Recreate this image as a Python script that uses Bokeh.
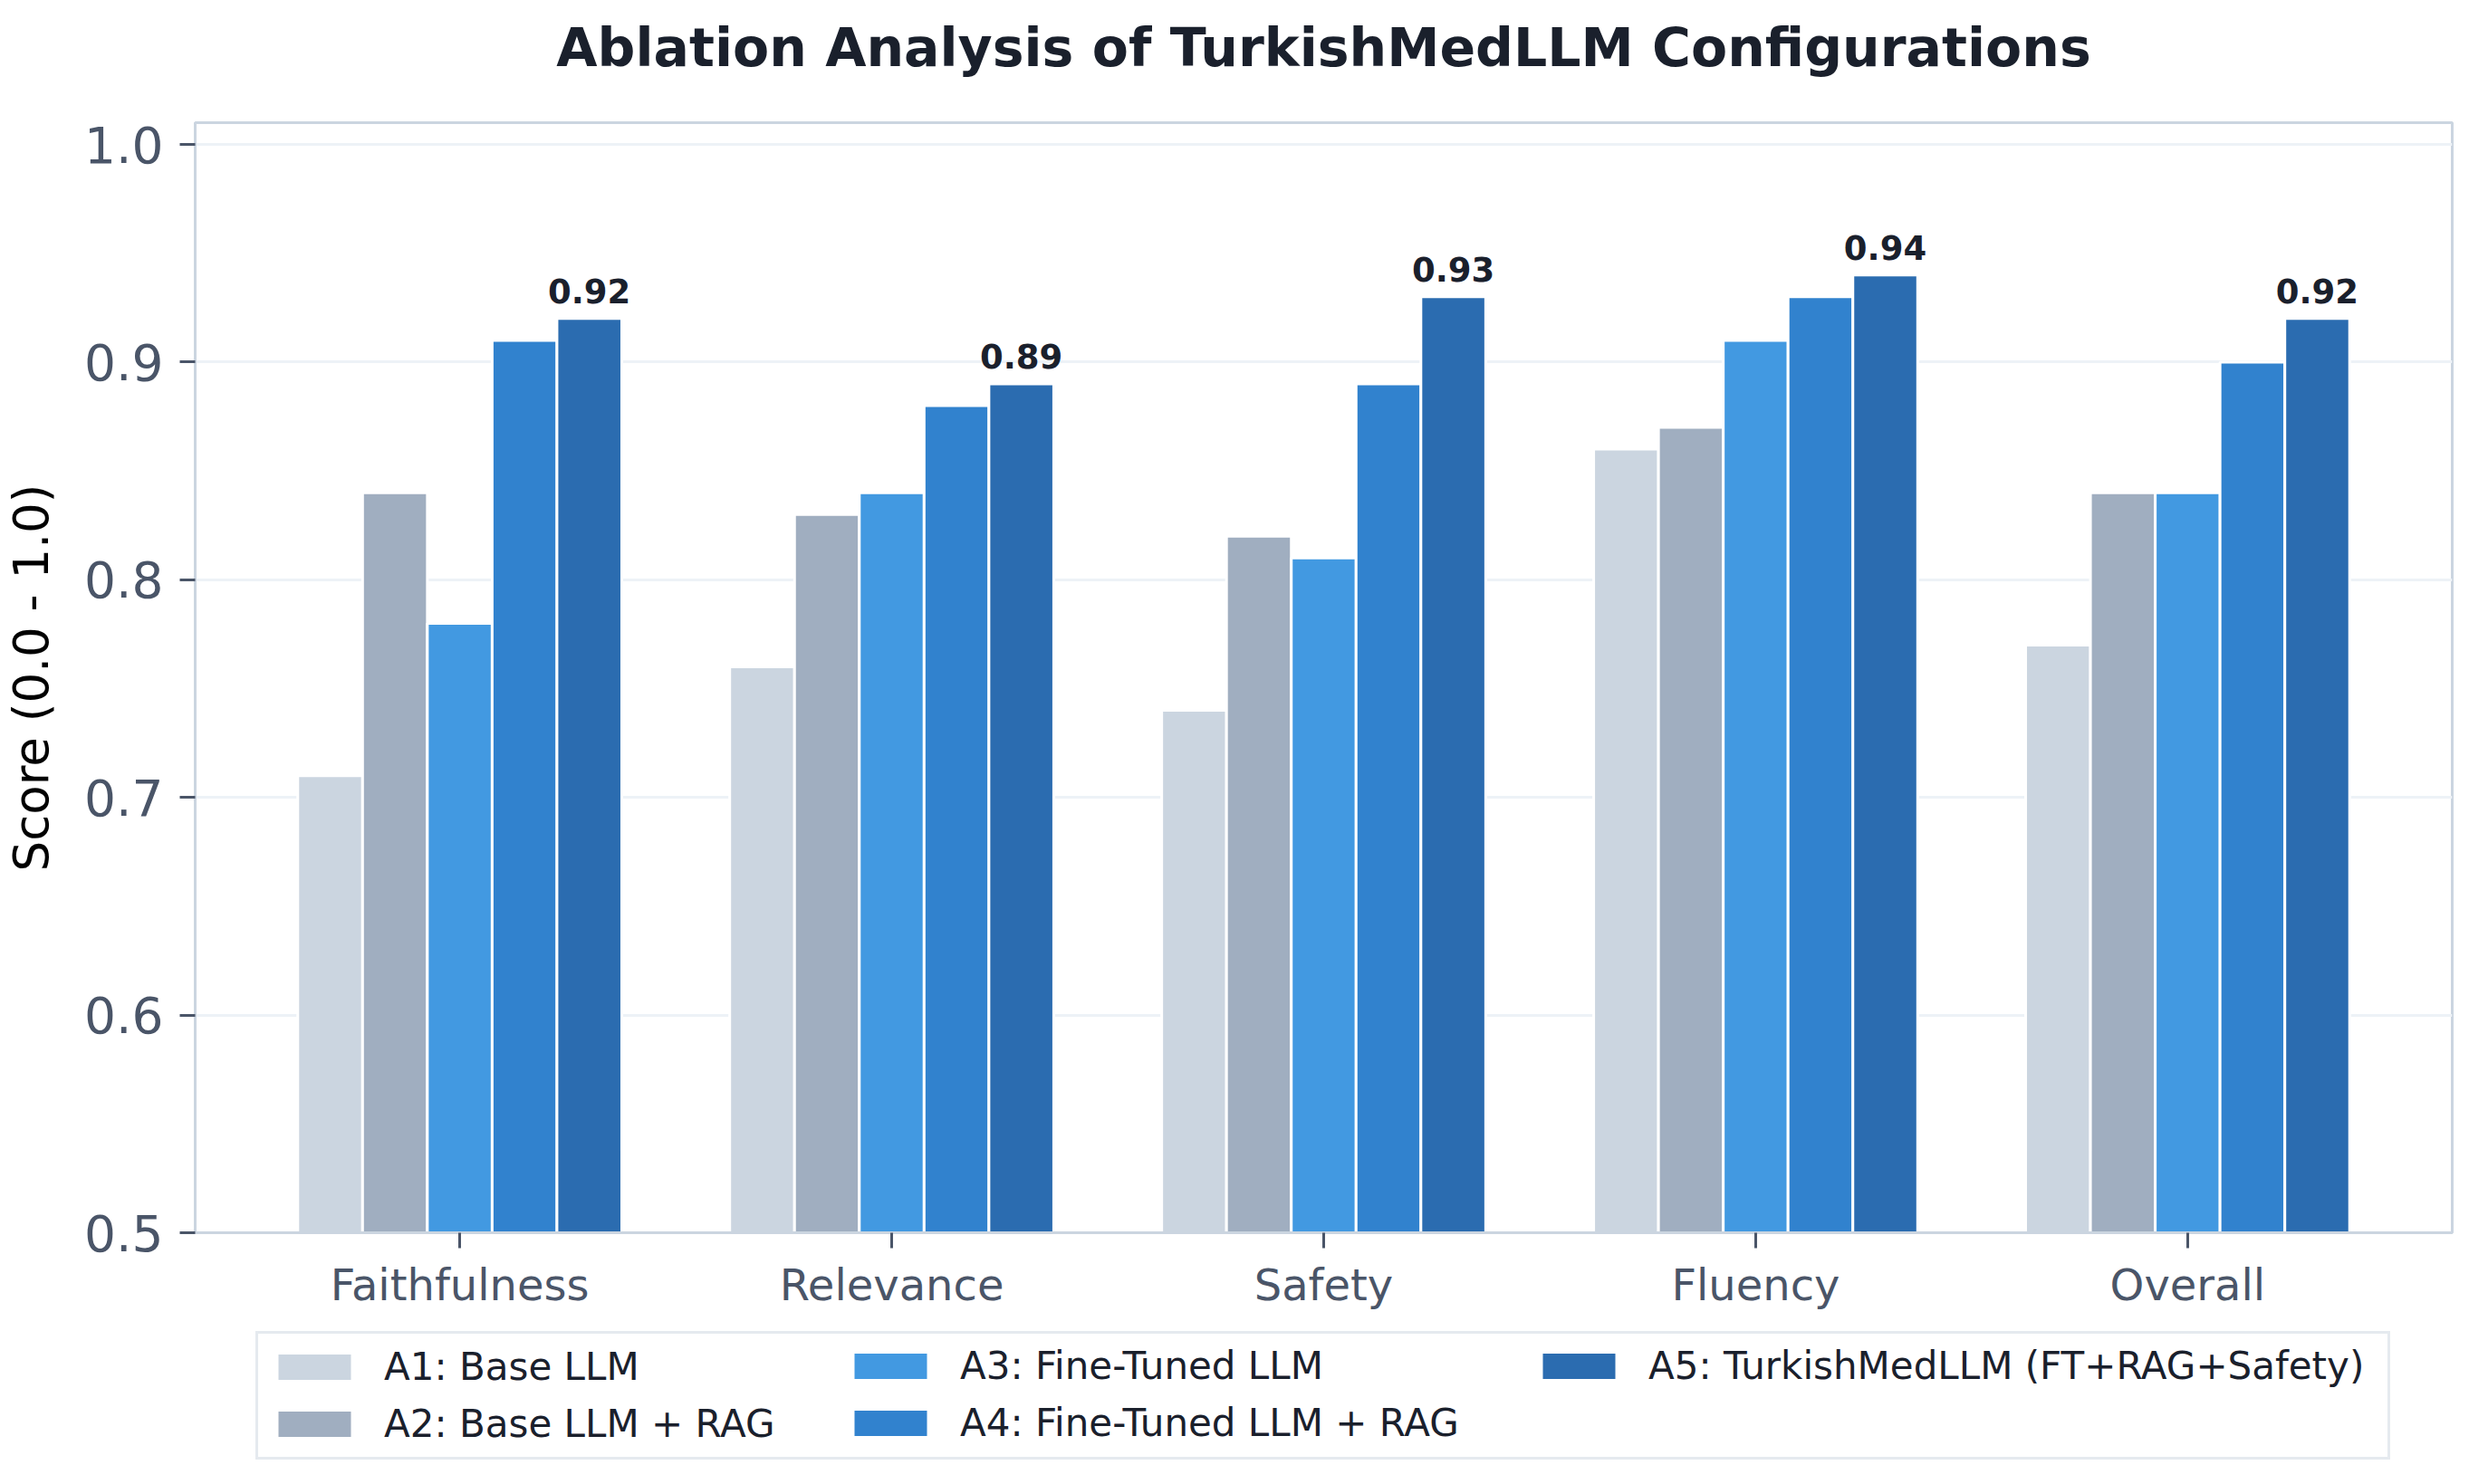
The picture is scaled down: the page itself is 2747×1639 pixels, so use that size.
from bokeh.plotting import figure
from bokeh.models import ColumnDataSource, Legend, LegendItem, FixedTicker, Range1d
from bokeh.transform import dodge
from bokeh.layouts import column
from bokeh.core.properties import value
from bokeh.embed import file_html
from bokeh.resources import INLINE

categories = ["Faithfulness", "Relevance", "Safety", "Fluency", "Overall"]
configs = [
    "A1: Base LLM",
    "A2: Base LLM + RAG",
    "A3: Fine-Tuned LLM",
    "A4: Fine-Tuned LLM + RAG",
    "A5: TurkishMedLLM (FT+RAG+Safety)",
]
a1 = [0.71, 0.76, 0.74, 0.86, 0.77]
a2 = [0.84, 0.83, 0.82, 0.87, 0.84]
a3 = [0.78, 0.84, 0.81, 0.91, 0.84]
a4 = [0.91, 0.88, 0.89, 0.93, 0.90]
a5 = [0.92, 0.89, 0.93, 0.94, 0.92]
y_ticks = [0.5, 0.6, 0.7, 0.8, 0.9, 1.0]
title_text = "Ablation Analysis of TurkishMedLLM Configurations"

colors = ["#cbd5e0", "#a0aec0", "#4299e1", "#3182ce", "#2b6cb0"]
keys = ["a1", "a2", "a3", "a4", "a5"]
bar_w = 0.15

FONT = "DejaVu Sans"
SPINE = "#cbd5e0"
TICKTXT = "#4a5568"
DARK = "#1a202c"
W = 2747

source = ColumnDataSource(dict(
    x=list(range(len(categories))),
    a1=a1, a2=a2, a3=a3, a4=a4, a5=a5,
    a5_label=[f"{v:.2f}" for v in a5],
))

# ---------- title strip ----------
pt = figure(width=W, height=100, x_axis_type=None, y_axis_type=None,
            x_range=Range1d(0, 1), y_range=Range1d(0, 1),
            output_backend="svg", toolbar_location=None,
            min_border_left=215, min_border_right=40,
            min_border_top=91, min_border_bottom=0)
pt.outline_line_color = None
pt.grid.visible = False
pt.title.text = title_text
pt.title.align = "center"
pt.title.text_font = FONT
pt.title.text_font_size = "58.5px"
pt.title.text_font_style = "bold"
pt.title.text_color = DARK
pt.title.standoff = 10

# ---------- main chart ----------
p = figure(
    width=W, height=1350,
    x_range=Range1d(-0.6125, 4.6125),
    y_range=Range1d(0.5, 1.01),
    output_backend="svg", toolbar_location=None,
    min_border_left=215, min_border_right=40,
    min_border_top=35, min_border_bottom=89,
)
p.outline_line_color = SPINE
p.outline_line_width = 3
p.background_fill_color = "white"
p.border_fill_color = "white"

for j, (k, c) in enumerate(zip(keys, colors)):
    off = (j - 2) * bar_w
    p.vbar(x=dodge("x", off, range=p.x_range), top=k, bottom=0.5, width=bar_w,
           source=source, fill_color=c, line_color="white", line_width=3)

p.text(x=dodge("x", 2 * bar_w, range=p.x_range), y="a5", text="a5_label", source=source,
       text_font=value(FONT), text_font_size="37px", text_font_style="bold",
       text_color=DARK, text_align="center", text_baseline="bottom", y_offset=-17)

p.xaxis.ticker = FixedTicker(ticks=list(range(len(categories))))
p.xaxis.major_label_overrides = {i: c for i, c in enumerate(categories)}
p.yaxis.ticker = FixedTicker(ticks=y_ticks)
p.yaxis.major_label_overrides = {t: f"{t:.1f}" for t in y_ticks}

for ax in (p.xaxis, p.yaxis):
    ax.axis_line_color = SPINE
    ax.axis_line_width = 3
    ax.major_tick_line_color = TICKTXT
    ax.major_tick_line_width = 3
    ax.major_tick_out = 17
    ax.major_tick_in = 0
    ax.minor_tick_line_color = None
    ax.major_label_text_font = FONT
    ax.major_label_text_color = TICKTXT

p.xaxis.major_label_text_font_size = "48px"
p.xaxis.major_label_standoff = 12
p.yaxis.major_label_text_font_size = "55px"
p.yaxis.major_label_standoff = 18
p.yaxis.axis_label = "Score (0.0 - 1.0)"
p.yaxis.axis_label_text_font = FONT
p.yaxis.axis_label_text_font_size = "53px"
p.yaxis.axis_label_text_font_style = "normal"
p.yaxis.axis_label_text_color = "black"
p.yaxis.axis_label_standoff = 25

p.xgrid.grid_line_color = None
p.ygrid.grid_line_color = "#edf2f7"
p.ygrid.grid_line_width = 3

# ---------- legend strip ----------
pl = figure(width=W, height=189, x_axis_type=None, y_axis_type=None,
            x_range=Range1d(-0.6125, 4.6125), y_range=Range1d(0, 1),
            output_backend="svg", toolbar_location=None,
            min_border_left=215, min_border_right=40, min_border_top=0, min_border_bottom=0)
pl.outline_line_color = None
pl.grid.visible = False

# swatch renderers: zero-height bars from the same data, used only for the legend keys
swatches = [pl.vbar(x="x", top=k, bottom=k, width=bar_w, source=source,
                    fill_color=c, line_color=None)
            for k, c in zip(keys, colors)]

common = dict(
    orientation="vertical",
    label_text_font=FONT, label_text_font_size="42px", label_text_color=DARK,
    glyph_width=100, glyph_height=35, label_standoff=27, label_height=49,
    spacing=14, padding=12, margin=0, border_line_width=3,
)
leg1 = Legend(
    items=[LegendItem(label=configs[j], renderers=[swatches[j]]) for j in (0, 1)],
    location=(67, 27), label_width=2200,
    border_line_color=SPINE, background_fill_color="white", background_fill_alpha=1.0,
    **common,
)
leg2 = Legend(
    items=[LegendItem(label=configs[j], renderers=[swatches[j]]) for j in (2, 3)],
    location=(706, 31),
    border_line_color=SPINE, border_line_alpha=0.0, background_fill_alpha=0.0,
    **common,
)
leg3 = Legend(
    items=[LegendItem(label=configs[4], renderers=[swatches[4]])],
    location=(1466, 94),
    border_line_color=SPINE, border_line_alpha=0.0, background_fill_alpha=0.0,
    **common,
)
for lg in (leg1, leg2, leg3):
    pl.add_layout(lg, "center")

layout = column(pt, p, pl, spacing=0)
open("out.html", "w").write(file_html(layout, INLINE))
